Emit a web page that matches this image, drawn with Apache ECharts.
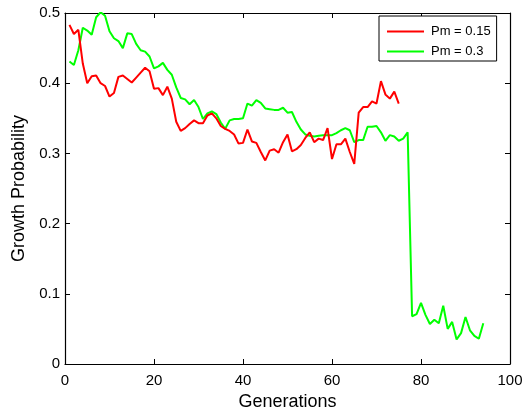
<!DOCTYPE html>
<html>
<head>
<meta charset="utf-8">
<script src="https://cdn.jsdelivr.net/npm/echarts@6/dist/echarts.min.js"></script>
<style>html,body{margin:0;padding:0;background:#fff}#c{width:524px;height:408px}</style>
</head>
<body>
<div id="c"></div>
<script>
const seriesNames = ['Pm = 0.15', 'Pm = 0.3'];
const xTicks = [0, 20, 40, 60, 80, 100];
const yTicks = [0, 0.1, 0.2, 0.3, 0.4, 0.5];
const redValues = [
  0.483, 0.470, 0.476, 0.428, 0.400, 0.410, 0.411, 0.400, 0.396, 0.381,
  0.386, 0.409, 0.411, 0.406, 0.401, 0.408, 0.415, 0.422, 0.417, 0.392,
  0.393, 0.383, 0.395, 0.378, 0.345, 0.332, 0.336, 0.342, 0.347, 0.343,
  0.343, 0.354, 0.357, 0.350, 0.339, 0.335, 0.332, 0.327, 0.314, 0.315,
  0.334, 0.317, 0.315, 0.302, 0.290, 0.304, 0.306, 0.301, 0.316, 0.327,
  0.303, 0.306, 0.312, 0.322, 0.330, 0.316, 0.321, 0.319, 0.336, 0.292,
  0.313, 0.313, 0.321, 0.302, 0.285, 0.358, 0.366, 0.366, 0.374, 0.371,
  0.403, 0.384, 0.378, 0.388, 0.371
];
const greenValues = [
  0.431, 0.426, 0.447, 0.479, 0.475, 0.469, 0.494, 0.501, 0.496, 0.474,
  0.464, 0.460, 0.450, 0.471, 0.470, 0.456, 0.447, 0.445, 0.438, 0.421,
  0.424, 0.429, 0.419, 0.412, 0.394, 0.379, 0.377, 0.370, 0.376, 0.366,
  0.349, 0.357, 0.360, 0.356, 0.344, 0.335, 0.347, 0.349, 0.349, 0.350,
  0.371, 0.368, 0.376, 0.372, 0.364, 0.363, 0.362, 0.362, 0.365, 0.358,
  0.359, 0.345, 0.334, 0.327, 0.325, 0.324, 0.325, 0.326, 0.326, 0.326,
  0.329, 0.333, 0.336, 0.333, 0.316, 0.319, 0.319, 0.338, 0.338, 0.339,
  0.330, 0.318, 0.326, 0.324, 0.318, 0.321, 0.330, 0.068, 0.071, 0.087,
  0.070, 0.057, 0.063, 0.058, 0.083, 0.050, 0.060, 0.035, 0.044, 0.067,
  0.048, 0.040, 0.036, 0.058
];
const toPairs = vals => vals.map((v, i) => [i + 1, v]);

const font = 'Liberation Sans, Arial, sans-serif';
const axisCommon = {
  axisLine: { show: true, onZero: false, lineStyle: { color: '#000', width: 1.2 } },
  axisTick: { show: true, inside: true, length: 5, lineStyle: { color: '#000' } },
  splitLine: { show: false }
};
const chart = echarts.init(document.getElementById('c'), null, { renderer: 'canvas' });
chart.setOption({
  animation: false,
  backgroundColor: '#fff',
  grid: { left: 65, right: 14, top: 13, bottom: 44, containLabel: false, outerBoundsMode: 'none' },
  legend: {
    orient: 'vertical',
    left: 379, top: 16,
    backgroundColor: '#fff',
    borderColor: '#000', borderWidth: 1, borderRadius: 0,
    padding: [9, 6, 3, 8],
    itemWidth: 37, itemHeight: 2, itemGap: 7,
    icon: 'rect',
    textStyle: { fontFamily: font, fontSize: 13, color: '#000', padding: [0, 0, 0, 2] },
    data: seriesNames
  },
  xAxis: [
    Object.assign({}, axisCommon, {
      type: 'value', min: 0, max: 100, interval: 20, position: 'bottom',
      name: 'Generations', nameLocation: 'middle', nameGap: 24,
      nameTextStyle: { fontFamily: font, fontSize: 18, color: '#000' },
      axisLabel: { show: true, color: '#000', fontFamily: font, fontSize: 15, margin: 9,
        formatter: v => xTicks.includes(v) ? String(v) : '' }
    }),
    Object.assign({}, axisCommon, {
      type: 'value', min: 0, max: 100, interval: 20, position: 'top',
      axisLabel: { show: false }
    })
  ],
  yAxis: [
    Object.assign({}, axisCommon, {
      type: 'value', min: 0, max: 0.5, interval: 0.1, position: 'left',
      name: 'Growth Probability', nameLocation: 'middle', nameGap: 30,
      nameTextStyle: { fontFamily: font, fontSize: 18, color: '#000' },
      axisLabel: { show: true, color: '#000', fontFamily: font, fontSize: 15, margin: 5,
        formatter: v => { const t = yTicks.find(k => Math.abs(k - v) < 1e-9); return t === undefined ? '' : String(t); } }
    }),
    Object.assign({}, axisCommon, {
      type: 'value', min: 0, max: 0.5, interval: 0.1, position: 'right',
      axisLabel: { show: false }
    })
  ],
  series: [
    { name: seriesNames[0], type: 'line', data: toPairs(redValues), showSymbol: false, symbol: 'none',
      color: '#ff0000', lineStyle: { color: '#ff0000', width: 2 }, xAxisIndex: 0, yAxisIndex: 0, z: 3 },
    { name: seriesNames[1], type: 'line', data: toPairs(greenValues), showSymbol: false, symbol: 'none',
      color: '#00ff00', lineStyle: { color: '#00ff00', width: 2 }, xAxisIndex: 0, yAxisIndex: 0, z: 2 }
  ]
});
</script>
</body>
</html>
